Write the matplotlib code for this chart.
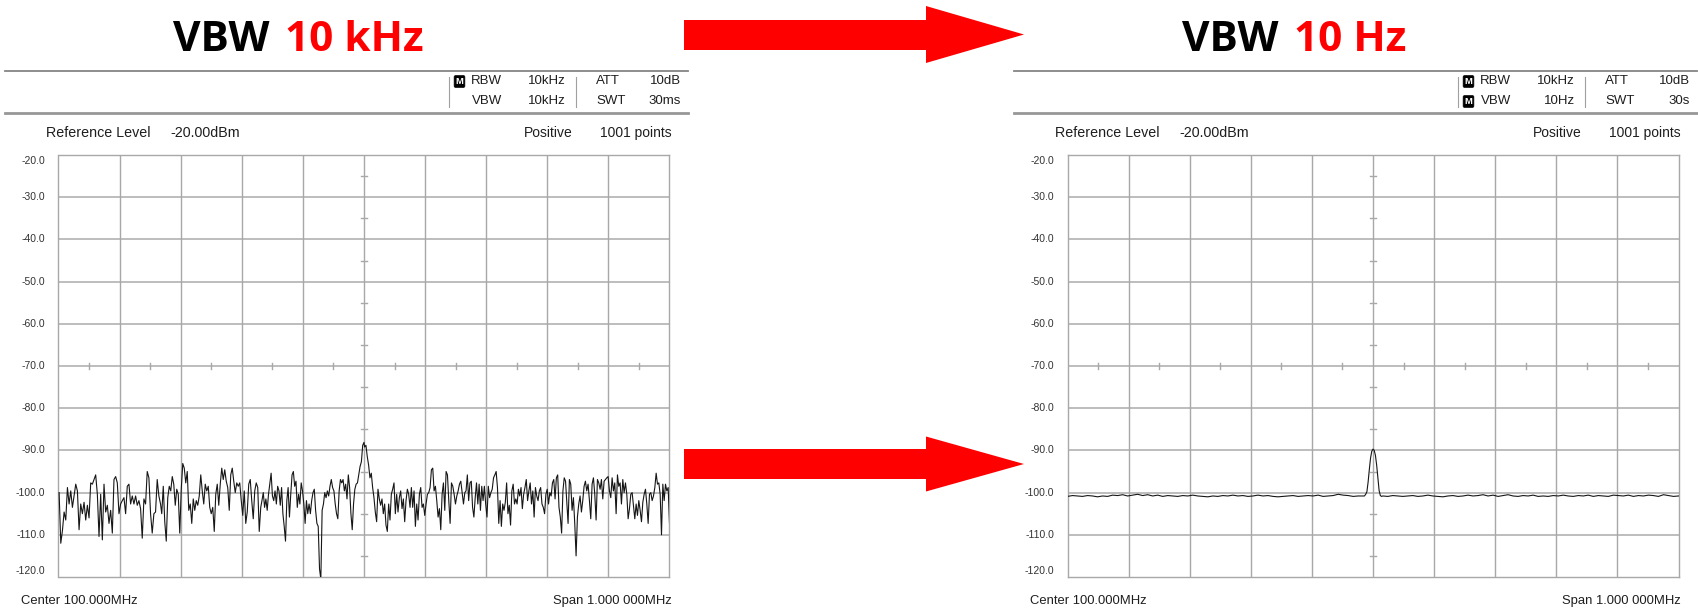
import numpy as np
import matplotlib.pyplot as plt
from matplotlib.patches import Polygon, Rectangle

# trace samples (dBm); each segment spans a frequency window given in kHz offset from center
seg_khz = [(-499, -333), (-331, -169), (-167, 0), (1, 165), (167, 332), (334, 500)]

vbw10k_seg1 = [-100.0, -112.0, -109.0, -104.6, -106.5, -98.8, -102.7, -99.6, -103.5, -100.8, -98.0, -99.6,
               -108.8, -102.7, -105.0, -102.3, -106.5, -103.0, -106.0, -97.7, -98.0, -96.9, -95.8, -100.4,
               -110.4, -100.4, -111.2, -98.0, -104.6, -103.0, -107.3, -104.2, -109.6, -96.9, -96.2, -97.7,
               -105.0, -102.7, -101.9, -101.2, -105.0, -98.5, -98.0, -102.7, -100.8, -102.7, -100.8, -103.0,
               -101.9, -103.8, -110.8, -101.5, -102.7, -95.0, -96.5, -105.0, -109.6, -105.0, -104.6, -96.9,
               -100.8, -102.7]
vbw10k_seg2 = [-105.0, -98.5, -106.9, -111.5, -101.2, -98.5, -99.6, -96.2, -98.0, -103.0, -99.2, -100.4,
               -109.6, -99.2, -93.1, -94.2, -97.7, -95.0, -104.2, -102.7, -107.3, -101.5, -104.2, -101.9,
               -103.0, -100.8, -95.8, -99.6, -102.7, -98.0, -99.6, -98.5, -103.5, -105.0, -103.5, -109.2,
               -100.4, -98.0, -103.0, -98.0, -94.2, -96.9, -94.6, -97.3, -98.8, -104.2, -95.8, -94.2,
               -97.3, -100.0, -97.7, -98.5, -97.7, -101.9, -105.4, -99.6, -107.3, -104.6, -98.0, -96.9,
               -101.9, -106.2, -99.6, -97.7, -98.8, -109.2, -103.5]
vbw10k_seg3 = [-101.9, -100.0, -103.5, -101.5, -104.2, -100.4, -98.0, -95.4, -100.8, -101.9, -99.6, -102.7,
               -98.5, -99.6, -103.0, -98.8, -105.0, -108.0, -111.5, -101.9, -98.8, -105.8, -100.4, -95.8,
               -95.0, -98.5, -97.3, -103.5, -100.4, -102.7, -97.7, -99.6, -102.7, -107.3, -101.9, -105.0,
               -102.7, -105.0, -101.9, -100.0, -99.2, -104.2, -107.3, -108.0, -118.1, -120.5, -104.2, -102.7,
               -100.0, -101.2, -99.6, -100.8, -98.5, -96.9, -98.8, -99.6, -102.7, -105.0, -106.2, -99.6,
               -96.9, -97.7, -96.9, -99.6, -98.0, -101.5, -95.8, -98.8, -105.0, -108.8, -102.7, -99.2,
               -98.0, -97.7, -95.8, -93.8, -92.7, -88.8, -88.1]
vbw10k_seg4 = [-89.2, -88.8, -91.5, -93.5, -96.5, -95.4, -98.8, -101.2, -104.6, -106.9, -99.2, -101.5,
               -103.0, -101.5, -105.0, -102.7, -107.7, -109.2, -102.7, -106.5, -100.4, -99.2, -97.7, -105.0,
               -100.4, -104.6, -101.2, -99.6, -103.8, -101.5, -106.9, -101.9, -99.2, -100.4, -103.5, -98.8,
               -103.5, -99.6, -108.0, -102.7, -106.5, -100.4, -98.8, -103.5, -102.7, -105.4, -102.7, -100.4,
               -100.0, -98.8, -94.6, -94.2, -99.6, -98.5, -101.9, -105.8, -103.8, -108.8, -100.4, -97.7,
               -104.2, -95.0, -95.8, -101.9, -107.3, -97.7, -98.5, -100.4, -102.7, -100.8, -99.6, -98.0,
               -97.3, -100.0, -102.7, -100.0]
vbw10k_seg5 = [-99.6, -95.8, -101.9, -97.7, -97.3, -103.5, -105.8, -101.2, -97.7, -102.7, -98.0, -104.2,
               -98.5, -101.9, -98.5, -102.7, -105.8, -98.5, -101.2, -100.0, -99.2, -96.5, -95.8, -95.0,
               -98.8, -107.3, -101.9, -108.0, -102.7, -104.2, -102.3, -97.7, -105.0, -103.0, -107.7, -99.6,
               -98.0, -102.7, -101.5, -102.7, -99.2, -100.8, -98.8, -103.8, -100.4, -98.8, -96.9, -101.9,
               -99.6, -97.7, -102.7, -99.6, -105.8, -98.8, -100.8, -101.9, -99.6, -98.8, -102.7, -103.5,
               -105.0, -100.4, -99.2, -102.7, -100.0, -100.8, -97.7, -96.9, -101.5, -96.5, -95.8, -103.5,
               -105.8, -109.6, -99.6, -96.5, -97.3, -102.7]
vbw10k_seg6 = [-107.3, -96.9, -98.0, -104.2, -101.2, -107.3, -115.0, -105.8, -102.7, -100.8, -104.6, -101.9,
               -98.5, -97.3, -99.6, -98.0, -101.9, -106.2, -98.0, -96.5, -100.4, -106.5, -96.9, -97.7,
               -99.2, -96.9, -101.5, -97.3, -96.9, -96.5, -96.2, -99.6, -101.2, -96.5, -99.6, -97.7,
               -105.0, -95.8, -98.5, -97.7, -102.7, -96.9, -100.0, -97.7, -100.4, -106.2, -103.8, -100.4,
               -100.0, -103.0, -106.2, -102.7, -105.4, -101.9, -104.2, -106.9, -102.3, -100.4, -99.2, -102.7,
               -107.3, -100.4, -100.0, -101.9, -100.8, -98.8, -95.4, -98.0, -97.7, -100.4, -110.0, -98.0,
               -101.9, -98.0, -99.6, -98.8, -107.3]
vbw10k_segs = [vbw10k_seg1, vbw10k_seg2, vbw10k_seg3, vbw10k_seg4, vbw10k_seg5, vbw10k_seg6]

# VBW 10 Hz trace: flat floor either side of the carrier, carrier sampled every 2 kHz from -14 to +14
vbw10_floor_lo = [-100.9, -100.7, -100.8, -100.9, -100.7, -100.8, -101.0, -100.8, -100.9, -100.6,
                  -100.7, -100.5, -100.8, -100.6, -100.4, -100.7, -100.5, -100.8, -100.6, -100.9,
                  -100.7, -100.8, -100.9, -100.7, -100.8, -100.6, -100.8, -100.9, -101.0, -100.8,
                  -100.9, -100.7, -100.8, -100.6, -100.8, -100.7, -100.9, -100.8, -100.6, -100.8,
                  -100.7, -100.9, -101.0, -100.9, -100.8, -100.7, -100.9, -100.8, -100.7, -100.8,
                  -100.6, -100.9, -100.8, -100.7, -100.4, -100.6, -100.7, -100.9, -100.8, -100.8]
vbw10_carrier = [-100.8, -100.4, -99.8, -97.5, -94.5, -91.8, -90.2, -89.7, -90.0, -91.2, -93.5,
                 -96.5, -99.5, -100.7, -100.9]
vbw10_floor_hi = [-100.8, -100.9, -100.7, -100.8, -100.9, -100.8, -100.7, -100.9, -100.8, -100.6,
                  -100.8, -100.9, -101.0, -100.8, -100.7, -100.9, -100.8, -100.6, -100.8, -100.7,
                  -100.5, -100.8, -100.6, -100.9, -100.7, -100.5, -100.8, -100.9, -100.7, -100.8,
                  -100.6, -100.9, -100.8, -100.9, -100.7, -100.8, -100.6, -100.8, -100.9, -100.7,
                  -100.8, -100.6, -100.9, -100.7, -100.8, -100.9, -100.6, -100.7, -100.8, -100.6,
                  -100.9, -100.7, -100.8, -100.6, -100.7, -100.9, -100.5, -100.7, -100.9, -100.8]

y_ticks = [-20, -30, -40, -50, -60, -70, -80, -90, -100, -110, -120]

# build frequency axes for the traces
f_10k = np.concatenate([np.linspace(a, b, len(s)) for (a, b), s in zip(seg_khz, vbw10k_segs)])
p_10k = np.concatenate(vbw10k_segs)
f_10 = np.concatenate([np.linspace(-500, -16, len(vbw10_floor_lo)),
                       np.linspace(-14, 14, len(vbw10_carrier)),
                       np.linspace(16, 500, len(vbw10_floor_hi))])
p_10 = np.concatenate([vbw10_floor_lo, vbw10_carrier, vbw10_floor_hi])

W, H = 1699, 614
fig = plt.figure(figsize=(W / 100, H / 100), dpi=100)
bg = fig.add_axes([0, 0, 1, 1])
bg.set_xlim(0, W)
bg.set_ylim(H, 0)
bg.axis('off')

SMALL = 'Liberation Sans'
TXT = '#1e1e1e'
RULE = '#858585'
GRID_H = '#bdbdbd'
GRID_V = '#a8a8a8'

PLOT_L, PLOT_W, PLOT_T, PLOT_B = 58.5, 611, 155, 577


def m_icon(x, y):
    bg.text(x, y, 'M', fontsize=6.8, family=SMALL, color='white', fontweight='bold',
            ha='center', va='center',
            bbox=dict(boxstyle='round,pad=0.15,rounding_size=0.15', fc='black', ec='black', lw=0.5))


def panel(dx, vbw_num, vbw_txt, swt_txt, vbw_manual, f, p):
    # headline
    bg.text(dx + 270, 50.7, 'VBW', fontsize=30.5, family='Open Sans', fontweight='bold',
            color='black', ha='right', va='baseline')
    bg.text(dx + 285, 50.7, vbw_num, fontsize=30.5, family='Open Sans', fontweight='bold',
            color='#ff0000', ha='left', va='baseline')

    # header rules and settings box
    bg.plot([dx + 5, dx + 688], [70.5, 70.5], color=RULE, lw=1.3)
    bg.plot([dx + 5, dx + 688], [113, 113], color=RULE, lw=2.0, alpha=0.85)
    for sx in (449, 576):
        bg.plot([dx + sx, dx + sx], [76.5, 106.5], color='#a0a0a0', lw=0.8)
    m_icon(dx + 459.5, 81.5)
    if vbw_manual:
        m_icon(dx + 459.5, 101.5)
    rows = [(81.5, 'RBW', '10kHz', 'ATT', '10dB'), (101.5, 'VBW', vbw_txt, 'SWT', swt_txt)]
    for y, k1, v1, k2, v2 in rows:
        bg.text(dx + 502, y, k1, fontsize=9.5, family=SMALL, color=TXT, ha='right', va='center')
        bg.text(dx + 566, y, v1, fontsize=9.5, family=SMALL, color=TXT, ha='right', va='center')
        bg.text(dx + 596, y, k2, fontsize=9.5, family=SMALL, color=TXT, ha='left', va='center')
        bg.text(dx + 681, y, v2, fontsize=9.5, family=SMALL, color=TXT, ha='right', va='center')

    bg.text(dx + 46.5, 133, 'Reference Level', fontsize=10.3, family=SMALL, color=TXT, va='center')
    bg.text(dx + 170, 133, '-20.00dBm', fontsize=10.3, family=SMALL, color=TXT, va='center')
    bg.text(dx + 524, 133, 'Positive', fontsize=10.0, family=SMALL, color=TXT, va='center')
    bg.text(dx + 672, 133, '1001 points', fontsize=10.0, family=SMALL, color=TXT, va='center', ha='right')
    bg.text(dx + 21.5, 601, 'Center 100.000MHz', fontsize=9.4, family=SMALL, color=TXT, va='center')
    bg.text(dx + 672, 601, 'Span 1.000 000MHz', fontsize=9.4, family=SMALL, color=TXT, va='center',
            ha='right')

    # level labels, outer ones pulled inside the graticule
    for v in y_ticks:
        yy = PLOT_T + (-20 - v) / 100 * (PLOT_B - PLOT_T)
        if v == -20:
            yy += 6.5
        elif v == -120:
            yy -= 6
        bg.text(dx + 45, yy, f'{v:.1f}', fontsize=7.5, family=SMALL, color='#333333',
                ha='right', va='center')

    ax = fig.add_axes([(dx + PLOT_L) / W, 1 - PLOT_B / H, PLOT_W / W, (PLOT_B - PLOT_T) / H])
    ax.set_xlim(-500, 500)
    ax.set_ylim(-120, -20)
    ax.set_xticks([])
    ax.set_yticks([])
    for s in ax.spines.values():
        s.set_color(GRID_V)
        s.set_linewidth(1.0)
    for v in y_ticks[1:-1]:
        ax.axhline(v, color=GRID_H, lw=1.4, zorder=1)
    for fx in range(-400, 500, 100):
        ax.axvline(fx, color=GRID_V, lw=1.0, zorder=1)
    # half-division marks on the centre cross
    for v in range(-25, -120, -10):
        ax.plot([-5.5, 5.5], [v, v], color=GRID_V, lw=1.0, zorder=1)
    for fx in range(-450, 500, 100):
        ax.plot([fx, fx], [-70.8, -69.2], color=GRID_V, lw=1.0, zorder=1)

    ax.plot(f, p, color='#161616', lw=0.8, zorder=3)


panel(0, '10 kHz', '10kHz', '30ms', False, f_10k, p_10k)
panel(1009, '10 Hz', '10Hz', '30s', True, f_10, p_10)

# red arrows between the panels
for yc, half_head in ((34.5, 28.5), (464, 27.5)):
    bg.add_patch(Rectangle((684, yc - 15), 243, 30, fc='#ff0000', ec='none'))
    bg.add_patch(Polygon([(926, yc - half_head), (1024, yc), (926, yc + half_head)],
                         closed=True, fc='#ff0000', ec='none'))

fig.savefig('out.png', dpi=100, facecolor='white')
